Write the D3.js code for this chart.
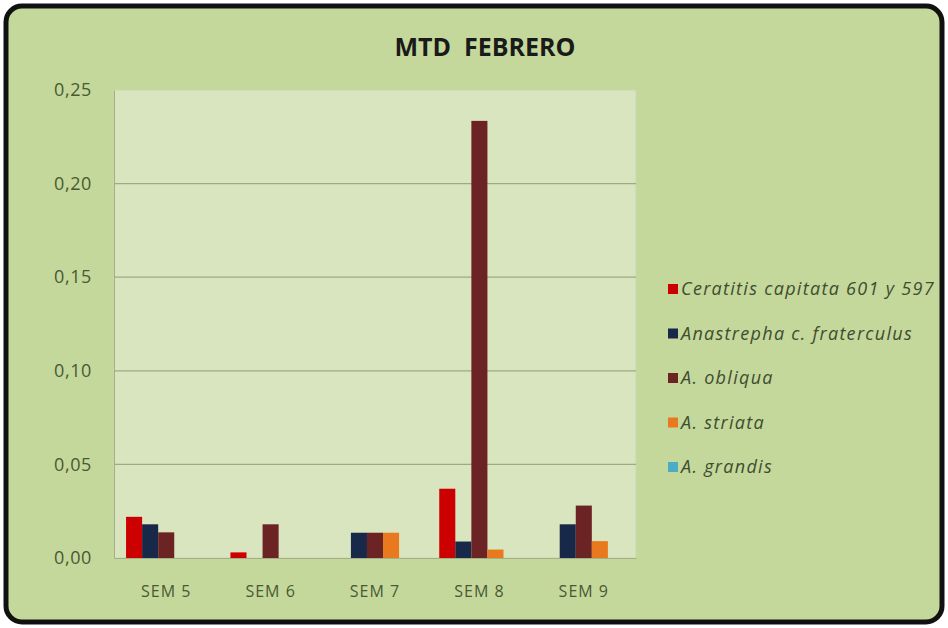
<!DOCTYPE html>
<html>
<head>
<meta charset="utf-8">
<script src="https://cdn.jsdelivr.net/npm/d3@7"></script>
<style>
  html, body { margin: 0; padding: 0; background: #ffffff; }
  svg { display: block; }
  text { font-family: "Open Sans", "Liberation Sans", sans-serif; }
</style>
</head>
<body>
<div id="area"></div>
<script>
var categories = ['SEM 5', 'SEM 6', 'SEM 7', 'SEM 8', 'SEM 9'];
var seriesNames = ['Ceratitis capitata 601 y 597', 'Anastrepha c. fraterculus', 'A. obliqua', 'A. striata', 'A. grandis'];
var seriesColors = ['#cc0000', '#172848', '#6b2323', '#e8791e', '#4bacc6'];
var ceratitis = [0.022, 0.003, 0, 0.037, 0];
var fraterculus = [0.018, 0, 0.0135, 0.0088, 0.018];
var obliqua = [0.0137, 0.018, 0.0135, 0.2335, 0.028];
var striata = [0, 0, 0.0135, 0.0045, 0.009];
var grandis = [0, 0, 0, 0, 0];
var yTicks = [0, 0.05, 0.10, 0.15, 0.20, 0.25];

var allSeries = [ceratitis, fraterculus, obliqua, striata, grandis];

var width = 948,
    height = 628;

var plot = {left: 114, right: 636, top: 90, bottom: 558};
var labelColor = '#4a5933';

var svg = d3.select('#area').append('svg')
    .attr('width', width)
    .attr('height', height);

// outer frame
svg.append('rect')
    .attr('x', 6).attr('y', 6)
    .attr('width', width - 12).attr('height', height - 12)
    .attr('rx', 16).attr('ry', 16)
    .attr('fill', '#c5d89c')
    .attr('stroke', '#111111')
    .attr('stroke-width', 5);

// plot background
svg.append('rect')
    .attr('x', plot.left).attr('y', plot.top)
    .attr('width', plot.right - plot.left).attr('height', plot.bottom - plot.top)
    .attr('fill', '#d9e5bf')
    .attr('stroke', '#cbd8ac');

// gap width 150% of a bar, as in the spreadsheet
var x0 = d3.scaleBand()
    .domain(categories)
    .range([plot.left, plot.right])
    .paddingInner(0.2307)
    .paddingOuter(0.1154);

var x1 = d3.scaleBand()
    .domain(d3.range(seriesNames.length))
    .range([0, x0.bandwidth()]);

var y = d3.scaleLinear()
    .domain([0, 0.25])
    .range([plot.bottom, plot.top]);

// gridlines
svg.append('g')
    .selectAll('line')
    .data(yTicks.filter(function(d) { return d > 0 && d < 0.25; }))
    .join('line')
    .attr('x1', plot.left).attr('x2', plot.right)
    .attr('y1', function(d) { return y(d); })
    .attr('y2', function(d) { return y(d); })
    .attr('stroke', '#9dab7d')
    .attr('stroke-width', 1.2);

// y axis
var yAxis = d3.axisLeft(y)
    .tickValues(yTicks)
    .tickSize(0)
    .tickPadding(22)
    .tickFormat(function(d) { return d3.format('.2f')(d).replace('.', ','); });

var yg = svg.append('g')
    .attr('transform', 'translate(' + plot.left + ',0)')
    .call(yAxis);
yg.select('.domain').attr('stroke', '#a3b087');
yg.selectAll('text')
    .attr('font-size', '18px')
    .attr('letter-spacing', '0.6px')
    .attr('fill', labelColor);

// x axis
var xAxis = d3.axisBottom(x0).tickSize(0).tickPadding(28);
var xg = svg.append('g')
    .attr('transform', 'translate(0,' + plot.bottom + ')')
    .call(xAxis);
xg.select('.domain').attr('stroke', '#a3b087');
xg.selectAll('text')
    .attr('font-size', '16px')
    .attr('letter-spacing', '1px')
    .attr('fill', labelColor);

// bars
var groups = svg.append('g')
    .selectAll('g')
    .data(categories)
    .join('g')
    .attr('transform', function(d) { return 'translate(' + x0(d) + ',0)'; });

groups.selectAll('rect')
    .data(function(d, i) {
      return allSeries.map(function(s, k) { return {k: k, v: s[i]}; });
    })
    .join('rect')
    .attr('x', function(d) { return x1(d.k); })
    .attr('width', x1.bandwidth())
    .attr('y', function(d) { return y(d.v); })
    .attr('height', function(d) { return plot.bottom - y(d.v); })
    .attr('fill', function(d) { return seriesColors[d.k]; });

// title
svg.append('text')
    .attr('x', 485).attr('y', 56)
    .attr('text-anchor', 'middle')
    .attr('font-size', '25px')
    .attr('font-weight', 'bold')
    .attr('fill', '#1a1a1a')
    .attr('xml:space', 'preserve')
    .text('MTD  FEBRERO');

// legend
var legend = svg.append('g')
    .attr('transform', 'translate(668,290)');

var item = legend.selectAll('g')
    .data(seriesNames)
    .join('g')
    .attr('transform', function(d, i) { return 'translate(0,' + (i * 44.5) + ')'; });

item.append('rect')
    .attr('x', 0).attr('y', -6)
    .attr('width', 10).attr('height', 10)
    .attr('fill', function(d, i) { return seriesColors[i]; });

item.append('text')
    .attr('x', 13).attr('y', 5)
    .attr('font-size', '18px')
    .attr('font-style', 'italic')
    .attr('letter-spacing', '1.3px')
    .attr('fill', '#3e4d2f')
    .text(function(d) { return d; });
</script>
</body>
</html>
